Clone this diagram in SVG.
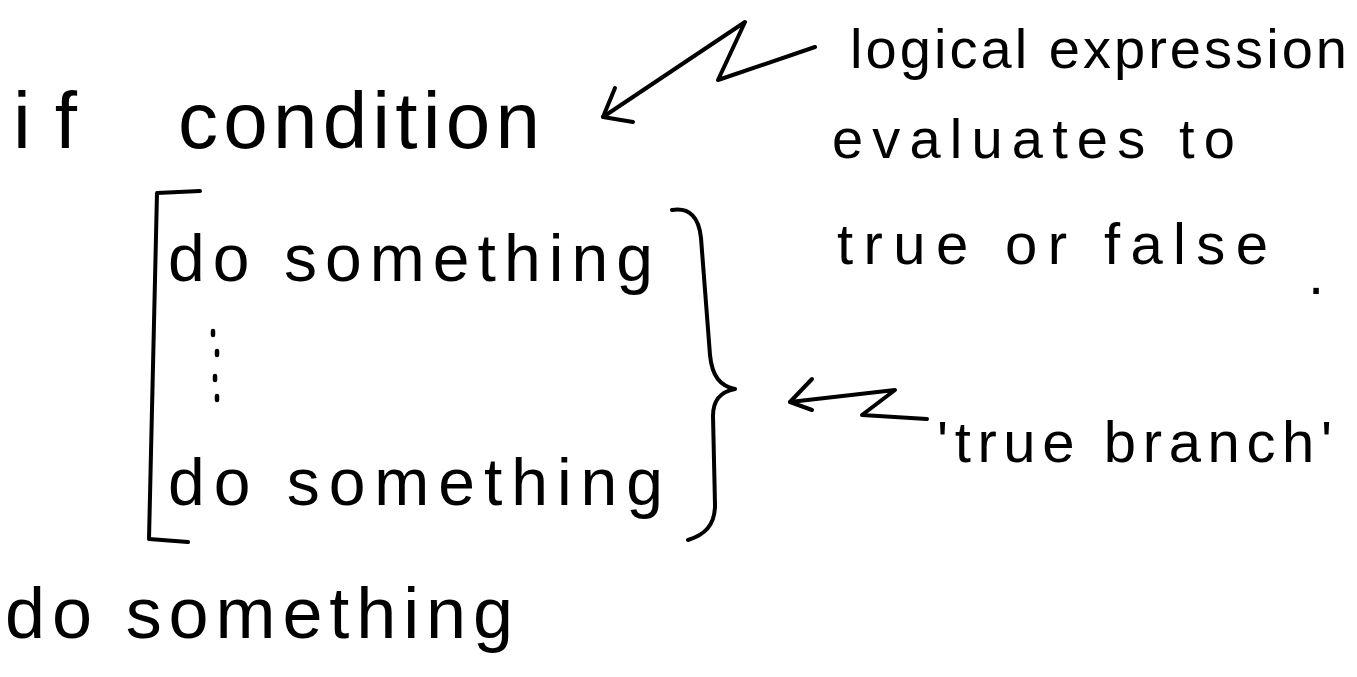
<svg xmlns="http://www.w3.org/2000/svg" width="1357" height="677" viewBox="0 0 1357 677">
<style>
text{font-family:"Liberation Sans","DejaVu Sans",sans-serif;fill:#000}
.ink{fill:none;stroke:#000;stroke-width:4;stroke-linecap:round;stroke-linejoin:round}
.dot{stroke:#000;stroke-width:4.5;stroke-linecap:round}
</style>
<rect width="1357" height="677" fill="#fff"/>
<g id="if-line">
<text x="13" y="148" font-size="80" textLength="64" lengthAdjust="spacing">if</text>
<text x="178" y="148" font-size="80" textLength="362" lengthAdjust="spacing">condition</text>
</g>
<g id="true-branch-block">
<path class="ink" d="M200,191 L157,193 L149,539 L188,542"/>
<text x="168" y="281" font-size="66" textLength="485" lengthAdjust="spacing">do something</text>
<line class="dot" x1="213" y1="331" x2="213" y2="335"/>
<line class="dot" x1="217" y1="351" x2="217" y2="355"/>
<line class="dot" x1="215" y1="376" x2="215" y2="380"/>
<line class="dot" x1="217" y1="396" x2="217" y2="400"/>
<text x="168" y="505" font-size="66" textLength="495" lengthAdjust="spacing">do something</text>
<path class="ink" d="M672,210 C690,207 699,218 701,238 L710,355 C712,376 720,386 735,389 C720,392 713,400 713,416 L715,505 C715,526 704,535 688,540"/>
</g>
<g id="after-if">
<text x="5" y="638" font-size="72" textLength="508" lengthAdjust="spacing">do something</text>
</g>
<g id="note-condition">
<text x="850" y="68" font-size="56" textLength="497" lengthAdjust="spacing">logical expression</text>
<text x="832" y="158" font-size="56" textLength="403" lengthAdjust="spacing">evaluates to</text>
<text x="837" y="264" font-size="58"><tspan textLength="431" lengthAdjust="spacing">true or false</tspan><tspan x="1308" y="294">.</tspan></text>
</g>
<g id="note-branch">
<text x="937" y="462" font-size="58" textLength="395" lengthAdjust="spacing">'true branch'</text>
</g>
<g id="connectors">
<path class="ink" d="M815,47 L718,80 L745,22 L603,117"/>
<path class="ink" d="M615,88 L603,117 L633,122"/>
<path class="ink" d="M927,419 L862,415 L895,390 L790,402"/>
<path class="ink" d="M812,379 L790,402 L812,410"/>
</g>
</svg>
